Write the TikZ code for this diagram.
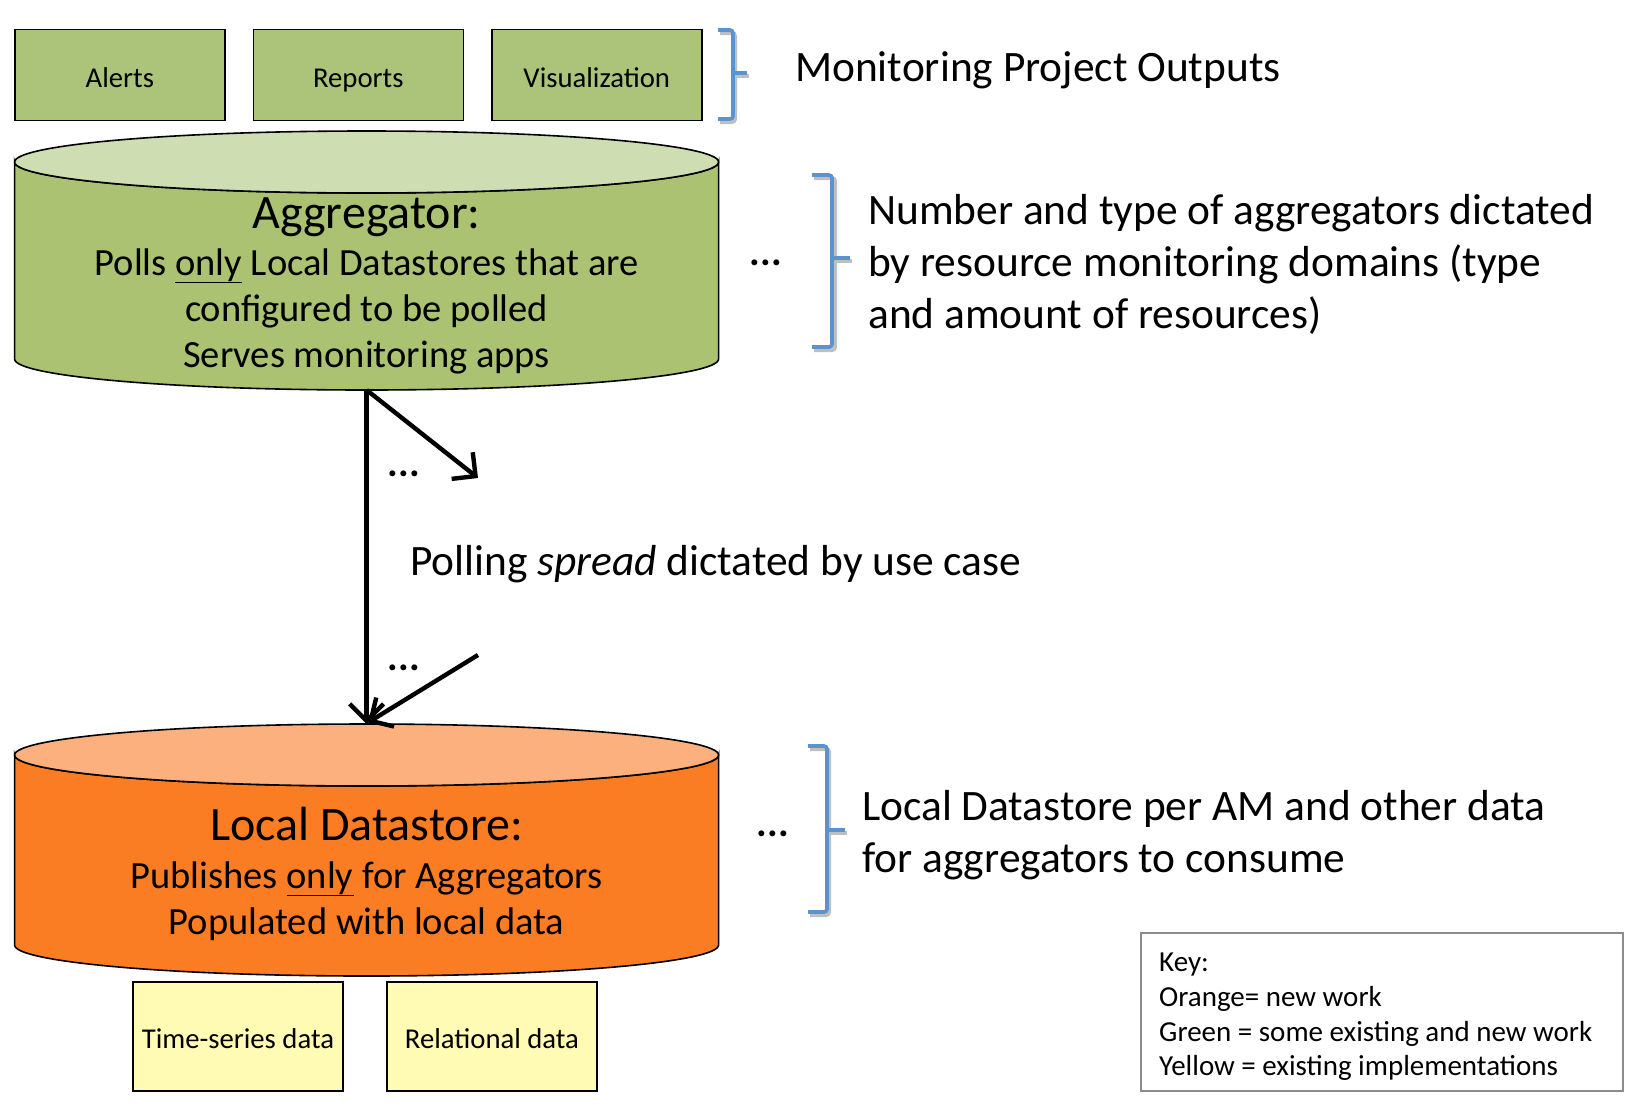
\documentclass[tikz,border=0pt]{standalone}
\usepackage{fontspec}
\setmainfont{Carlito}
\usetikzlibrary{arrows.meta}
\definecolor{boxgreen}{HTML}{ABC47A}
\definecolor{cylgreen}{HTML}{AAC272}
\definecolor{cyltopgreen}{HTML}{CFDDB2}
\definecolor{cylorange}{HTML}{FB7D23}
\definecolor{cyltoporange}{HTML}{FCB07E}
\definecolor{boxyellow}{HTML}{FFFAB4}
\definecolor{braceblue}{HTML}{5B93CF}
\definecolor{keygray}{HTML}{8C8C8C}
\tikzset{
  outbox/.style={draw=black, line width=1.6pt, fill=boxgreen, text height=26pt, text depth=0pt, font=\fontsize{28.7}{34}\selectfont},
  databox/.style={draw=black, line width=1.6pt, fill=boxyellow, text height=23pt, text depth=0pt, font=\fontsize{28.7}{34}\selectfont},
  bigtext/.style={anchor=base west, inner sep=0pt, font=\fontsize{43.4}{52}\selectfont},
  cyltext/.style={anchor=base, inner sep=0pt, font=\fontsize{38.5}{46}\selectfont, align=center},
  cyltitle/.style={anchor=base, inner sep=0pt, font=\fontsize{48}{56}\selectfont},
  dotstext/.style={anchor=base, inner sep=0pt, font=\fontsize{40}{46}\selectfont\bfseries},
  bracket/.style={draw=braceblue, line width=3.6pt, rounded corners=3pt},
  bracketshadow/.style={draw=black!25, line width=4pt, rounded corners=3pt},
  cylline/.style={draw=black, line width=1.6pt},
  polarrow/.style={line width=4.4pt, -{Straight Barb[length=17pt, width=34pt, line width=4.4pt]}},
}
\begin{document}
\begin{tikzpicture}[x=1pt, y=-1pt]
\useasboundingbox (0,0) rectangle (1640,1106);

% top output boxes
\node[outbox, minimum width=210pt, minimum height=91pt] (alerts) at (119.8,74.8) {Alerts};
\node[outbox, minimum width=210pt, minimum height=91pt] (reports) at (358.3,74.8) {Reports};
\node[outbox, minimum width=210pt, minimum height=91pt] (vis) at (596.8,74.8) {Visualization};

% bracket 1
\draw[bracketshadow] (720,33) -- (735,33) -- (735,122) -- (720,122);
\draw[bracketshadow] (735,76) -- (749,76);
\draw[bracket] (718,30) -- (733,30) -- (733,119) -- (718,119);
\draw[bracket] (733,73) -- (747,73);
\node[bigtext] (outputs) at (795,81) {Monitoring Project Outputs};

% Aggregator cylinder
\path[cylline, fill=cylgreen] (14.6,162) -- (14.6,359)
  arc[start angle=180, end angle=0, x radius=352, y radius=31]
  -- (718.6,162)
  arc[start angle=0, end angle=180, x radius=352, y radius=31] -- cycle;
\path[cylline, fill=cyltopgreen] (366.6,162) ellipse [x radius=352, y radius=31];
\coordinate (aggbot) at (366.6,390);
\node[cyltitle] (aggtitle) at (366.6,228) {Aggregator:};
\node[cyltext] (agg1) at (366.6,275) {Polls \underline{only} Local Datastores that are};
\node[cyltext] (agg2) at (366.6,321) {configured to be polled};
\node[cyltext] (agg3) at (366.6,367) {Serves monitoring apps};

\node[dotstext] (dots1) at (765.7,265) {...};

% bracket 2
\draw[bracketshadow] (814,178) -- (835,178) -- (835,350) -- (814,350);
\draw[bracketshadow] (835,261) -- (852,261);
\draw[bracket] (812,175) -- (832,175) -- (832,347) -- (812,347);
\draw[bracket] (832,258) -- (850,258);
\node[bigtext] (num1) at (868,224) {Number and type of aggregators dictated};
\node[bigtext] (num2) at (868,276) {by resource monitoring domains (type};
\node[bigtext] (num3) at (868,328) {and amount of resources)};

% Local Datastore cylinder
\path[cylline, fill=cylorange] (14.6,755) -- (14.6,945)
  arc[start angle=180, end angle=0, x radius=352, y radius=31]
  -- (718.6,755)
  arc[start angle=0, end angle=180, x radius=352, y radius=31] -- cycle;
\path[cylline, fill=cyltoporange] (366.6,755) ellipse [x radius=352, y radius=31];
\coordinate (loctop) at (366.6,724);
\node[cyltitle] (loctitle) at (366.6,840) {Local Datastore:};
\node[cyltext] (loc1) at (366.6,888) {Publishes \underline{only} for Aggregators};
\node[cyltext] (loc2) at (366.6,934) {Populated with local data};

% arrows
\coordinate (spreadA) at (478,478);
\coordinate (spreadB) at (478,655);
\coordinate (spreadC) at (368,722.5);
\draw[polarrow] (aggbot) -- (loctop);
\draw[polarrow] (aggbot) -- (spreadA);
\draw[polarrow] (spreadB) -- (spreadC);
\node[dotstext] (dots2) at (403.8,476) {...};
\node[dotstext] (dots3) at (403.8,670) {...};
\node[bigtext] (polling) at (410,575) {Polling \textit{spread} dictated by use case};

\node[dotstext] (dots4) at (773,836) {...};

% bracket 3
\draw[bracketshadow] (810,749) -- (829,749) -- (829,915) -- (810,915);
\draw[bracketshadow] (829,833) -- (847,833);
\draw[bracket] (808,746) -- (827,746) -- (827,912) -- (808,912);
\draw[bracket] (827,830) -- (845,830);
\node[bigtext] (am1) at (862,820) {Local Datastore per AM and other data};
\node[bigtext] (am2) at (862,872) {for aggregators to consume};

% data boxes
\node[databox, minimum width=210pt, minimum height=109pt] (ts) at (237.9,1036.5) {Time-series data};
\node[databox, minimum width=210pt, minimum height=109pt] (rel) at (492,1036.5) {Relational data};

% key
\node[draw=keygray, line width=1.6pt, minimum width=482pt, minimum height=158pt] (keybox) at (1382,1012) {};
\node[anchor=north west, inner sep=0pt, align=left, font=\fontsize{29}{34.6}\selectfont] (keytext) at (1159,953)
  {Key:\\Orange= new work\\Green = some existing and new work\\Yellow = existing implementations};
\end{tikzpicture}
\end{document}
